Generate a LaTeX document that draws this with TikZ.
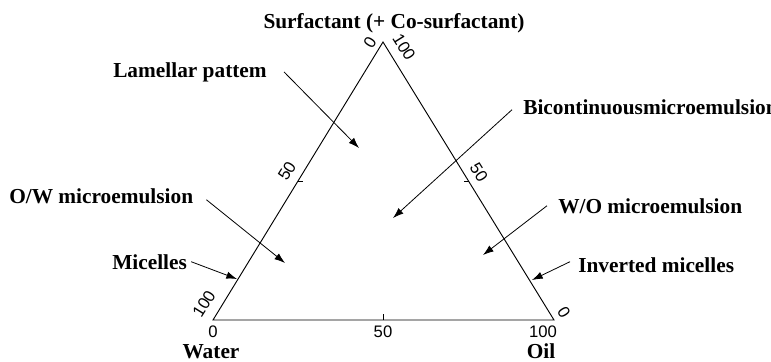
\documentclass[tikz,border=0pt]{standalone}
\usepackage{fontspec}
\setmainfont{Liberation Serif}
\setsansfont{Liberation Sans}
\usetikzlibrary{arrows.meta}
\tikzset{
  lbl/.style={font=\bfseries\fontsize{16}{18}\selectfont, inner sep=0pt, anchor=base west},
  num/.style={font=\sffamily\fontsize{12.5}{14}\selectfont, inner sep=0pt},
  arr/.style={-{Latex[length=8pt,width=5.5pt]}, line width=0.6pt},
}
\begin{document}
\begin{tikzpicture}[x=0.75pt,y=-0.75pt]
  \useasboundingbox (0,0) rectangle (771,361);
  % corners of the diagram
  \coordinate (W) at (213,320);
  \coordinate (O) at (554,320);
  \coordinate (S) at (383,42);
  \draw[line width=0.7pt] (W) -- (O) -- (S) -- cycle;
  % ticks at 50
  \path (W) -- (O) coordinate[pos=.5] (wo50);
  \path (W) -- (S) coordinate[pos=.5] (ws50);
  \path (O) -- (S) coordinate[pos=.5] (os50);
  \draw[line width=0.6pt] (wo50) -- ++(0,-6);
  \draw[line width=0.6pt] (ws50) -- ++(5,0);
  \draw[line width=0.6pt] (os50) -- ++(-5,0);
  % scale numbers
  \foreach \t/\x in {0/213,50/383,100/543}
    \node[num] (b\t) at (\x,332) {\t};
  \node[num,rotate=58] (l100) at (204,304) {100};
  \node[num,rotate=58] (l50) at (287,171) {50};
  \node[num,rotate=58] (l0) at (370,43) {0};
  \node[num,rotate=-58] (r100) at (404,47) {100};
  \node[num,rotate=-58] (r50) at (479,172) {50};
  \node[num,rotate=-58] (r0) at (564,312) {0};
  % components
  \node[lbl,anchor=base] (surf) at (394,28) {Surfactant (+ Co-surfactant)};
  \node[lbl,anchor=base] (water) at (211,358) {Water};
  \node[lbl,anchor=base] (oil) at (541,358) {Oil};
  % phases
  \node[lbl] (lam) at (113,77) {Lamellar pattem};
  \node[lbl] (bic) at (523,114) {Bicontinuousmicroemulsion};
  \node[lbl] (ow) at (9,203) {O/W microemulsion};
  \node[lbl] (mic) at (112,269) {Micelles};
  \node[lbl] (wo) at (558,213) {W/O microemulsion};
  \node[lbl] (inv) at (578,272) {Inverted micelles};
  \coordinate (lamTip) at (359,148);
  \coordinate (bicTip) at (393,218);
  \coordinate (owTip) at (285,263);
  \coordinate (micTip) at (237,279);
  \coordinate (woTip) at (483,255);
  \coordinate (invTip) at (532,280);
  \draw[arr] ([shift={(17,0)}]lam.east) -- (lamTip);
  \draw[arr] ([shift={(-11,3)}]bic.west) -- (bicTip);
  \draw[arr] ([shift={(13,4)}]ow.east) -- (owTip);
  \draw[arr] ([shift={(4,0)}]mic.east) -- (micTip);
  \draw[arr] ([shift={(-11,0)}]wo.west) -- (woTip);
  \draw[arr] ([shift={(-8,-3)}]inv.west) -- (invTip);
\end{tikzpicture}
\end{document}
